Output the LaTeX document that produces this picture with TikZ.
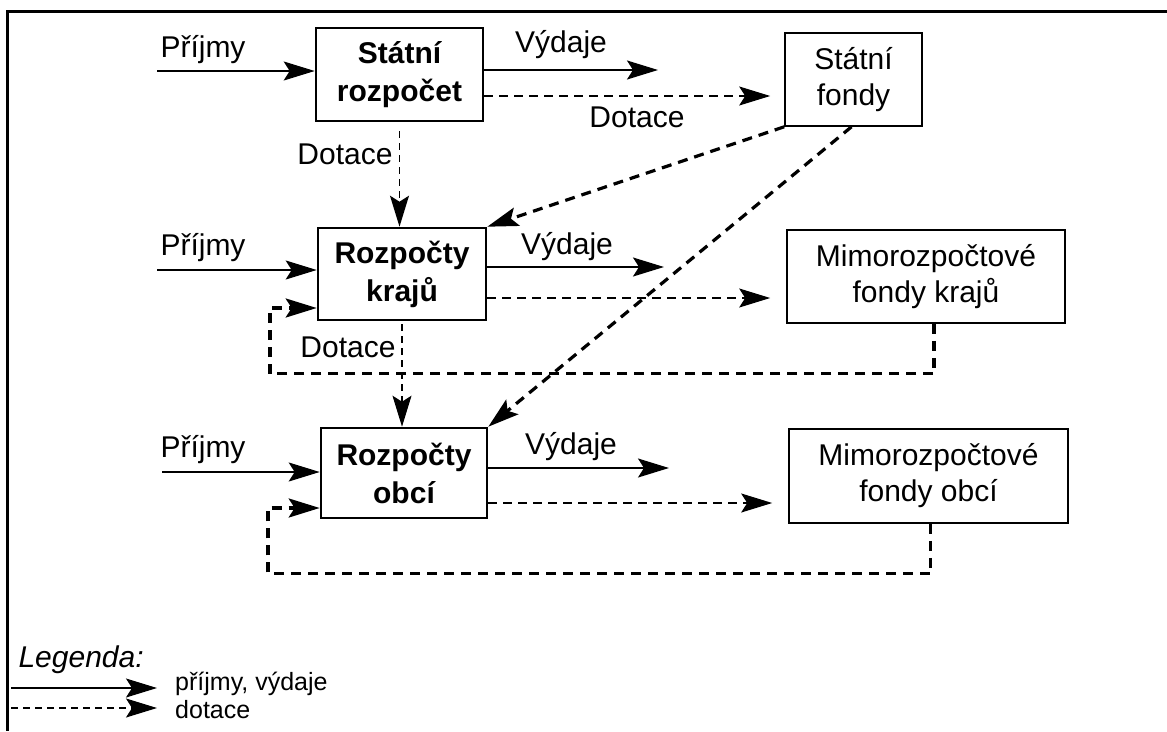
\documentclass[tikz,border=0pt]{standalone}
\usepackage{fontspec}
\setmainfont{Liberation Sans}
\usetikzlibrary{arrows.meta, positioning}

\begin{document}
\begin{tikzpicture}[x=1pt, y=-1pt,
  every node/.style={font=\fontsize{30}{36}\selectfont},
  budget/.style={draw, line width=2.6pt, align=center, inner sep=0pt,
    font=\fontsize{30}{38}\selectfont\bfseries},
  fund/.style={draw, line width=1.6pt, align=center, inner sep=0pt},
  flow/.style={line width=1.8pt, -{Stealth[length=31pt,width=19pt,inset=6pt]}},
  grant/.style={flow, dash pattern=on 9pt off 6pt},
  thickgrant/.style={flow, line width=3.2pt, dash pattern=on 10pt off 7pt},
  legtext/.style={anchor=west, font=\fontsize{25}{30}\selectfont}]
\useasboundingbox (0,0) rectangle (1167,731);

% frame
\draw[line width=3pt] (1167,11) -- (7,11) -- (7,731);

% boxes
\node[budget, minimum width=167pt, minimum height=93pt] (sr) at (399.5,74.5) {Státní\\rozpočet};
\node[fund, minimum width=137pt, minimum height=93pt] (sf) at (853.5,79.5) {Státní\\fondy};
\node[budget, minimum width=168pt, minimum height=92pt] (rk) at (402,274) {Rozpočty\\krajů};
\node[fund, minimum width=278pt, minimum height=93pt] (mk) at (926,276.5) {Mimorozpočtové\\fondy krajů};
\node[budget, minimum width=166pt, minimum height=90pt] (ro) at (404,473) {Rozpočty\\obcí};
\node[fund, minimum width=279pt, minimum height=94pt] (mo) at (928.5,476) {Mimorozpočtové\\fondy obcí};

% state budget row
\coordinate (pr1) at (157,71);
\coordinate (vyd1) at (658,70);
\coordinate (dt1) at (0,96);
\node (pl1) at (203,50) {Příjmy};
\node (vl1) at (561,45) {Výdaje};
\node (dl1) at (637,117) {Dotace};
\draw[flow] (pr1) -- (pr1 -| sr.west);
\draw[flow] (vyd1 -| sr.east) -- (vyd1);
\draw[grant, shorten >=14pt] (dt1 -| sr.east) -- (dt1 -| sf.west);

% regions row
\coordinate (pr2) at (157,270);
\coordinate (vyd2) at (664,267);
\coordinate (dt2) at (0,298);
\node (pl2) at (203,248) {Příjmy};
\node (vl2) at (567,247) {Výdaje};
\draw[flow] (pr2) -- (pr2 -| rk.west);
\draw[flow] (vyd2 -| rk.east) -- (vyd2);
\draw[grant, shorten >=16pt] (dt2 -| rk.east) -- (dt2 -| mk.west);

% municipalities row
\coordinate (pr3) at (162,472);
\coordinate (vyd3) at (669,468);
\coordinate (dt3) at (0,503);
\node (pl3) at (203,450) {Příjmy};
\node (vl3) at (571,447) {Výdaje};
\draw[flow] (pr3) -- (pr3 -| ro.west);
\draw[flow] (vyd3 -| ro.east) -- (vyd3);
\draw[grant, shorten >=16pt] (dt3 -| ro.east) -- (dt3 -| mo.west);

% grants down
\node (dk) at (345,154) {Dotace};
\node (do) at (348,347) {Dotace};
\draw[grant, line width=1.4pt, dash pattern=on 7pt off 5pt, shorten <=9pt] (sr.south) -- (sr.south |- rk.north);
\draw[grant, line width=1.4pt, dash pattern=on 7pt off 5pt, shorten <=3pt] (rk.south) -- (rk.south |- ro.north);
\draw[thickgrant] (sf.south west) -- (rk.north east);
\draw[thickgrant] ([xshift=-2pt]sf.south) -- (ro.north east);

% loops back from the funds
\coordinate (loopk) at (270,308);
\coordinate (loopo) at (268,508);
\draw[thickgrant] ([xshift=8pt]mk.south) -- ++(0,50) -| (loopk) -- (loopk -| rk.west);
\draw[thickgrant] ([xshift=2pt]mo.south) -- ++(0,50) -| (loopo) -- (loopo -| ro.west);

% legend
\node[anchor=west, font=\fontsize{30}{36}\selectfont\itshape] (leg) at (15,660) {Legenda:};
\coordinate (la) at (11,688);
\coordinate (lb) at (11,708);
\node[legtext, inner sep=1pt] (lt1) at (174,684) {příjmy, výdaje};
\node[legtext, inner sep=1pt] (lt2) at (174,710) {dotace};
\draw[flow, line width=1.4pt] (la) -- (la -| 157,0);
\draw[grant, line width=1.4pt, dash pattern=on 7pt off 5pt] (lb) -- (lb -| 157,0);
\end{tikzpicture}
\end{document}
